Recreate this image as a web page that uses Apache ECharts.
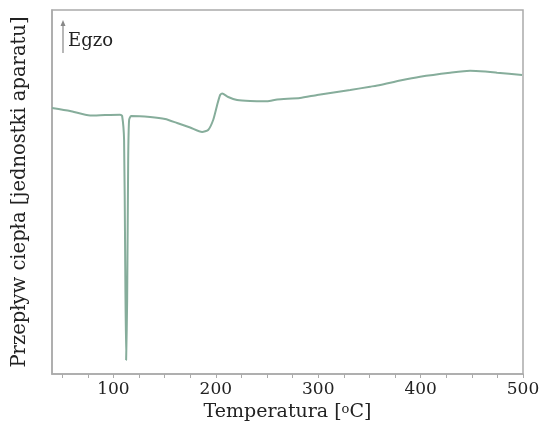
<!DOCTYPE html>
<html lang="pl">
<head>
    <meta charset="UTF-8">
    <title>DSC</title>
    <script src="https://cdn.jsdelivr.net/npm/echarts@6/dist/echarts.min.js"></script>
    <style>
        html, body { margin: 0; padding: 0; background: #fff; }
    </style>
</head>
<body>
<div id="main" style="width:543px;height:438px;"></div>
<script>
    // temperatura [oC] i sygnał (jednostki aparatu)
    var temps = [40, 57.7, 77.2, 91.9, 106.5, 108.5, 110.4, 111.4, 112.4, 113.4, 114.4, 115.3, 117.3,
        135.8, 150.5, 162.2, 174.9, 186.6, 192.5, 197.4, 201.3, 204.2, 206.2, 212.1, 220.8, 233.5,
        250.1, 259.9, 282.3, 298.9, 331.2, 350.7, 360.5, 380, 399.5, 428.8, 448.3, 463, 474.7, 499.1];
    var signal = [266, 263, 258.5, 259, 259.3, 258, 234, 124, 14, 74, 214, 254, 258,
        257, 255, 251, 246.5, 242, 244, 254, 269, 279, 280.5, 277, 274, 273,
        272.8, 274.5, 276, 279, 284, 287.3, 289, 293.5, 297.3, 301.3, 303.3, 302.5, 301.3, 299];
    var tickValues = [50, 75, 100, 125, 150, 175, 200, 225, 250, 275, 300, 325, 350, 375, 400, 425, 450, 475, 500];
    var labelValues = [100, 200, 300, 400, 500];

    var points = [];
    for (var i = 0; i < temps.length; i++) {
        points.push([temps[i], signal[i]]);
    }

    var serif = 'DejaVu Serif';
    var chart = echarts.init(document.getElementById('main'));
    var option = {
        animation: false,
        grid: {
            left: 52, right: 20, top: 10, bottom: 64,
            show: true,
            borderColor: '#aaaaaa',
            borderWidth: 1.5
        },
        xAxis: {
            type: 'value',
            min: 40,
            max: 500,
            name: '{a|Temperatura [}{s|o}{a|C]}',
            nameLocation: 'middle',
            nameGap: 24,
            nameTextStyle: {
                rich: {
                    a: { fontFamily: serif, fontSize: 19, color: '#222' },
                    s: { fontFamily: serif, fontSize: 13, color: '#222', verticalAlign: 'top', padding: [0, 0, 5, 0] }
                }
            },
            axisLine: { show: true, lineStyle: { color: '#aaaaaa', width: 1.5 } },
            axisTick: {
                show: true,
                length: 4,
                customValues: tickValues,
                lineStyle: { color: '#aaaaaa' }
            },
            axisLabel: {
                customValues: labelValues,
                fontFamily: serif,
                fontSize: 17,
                color: '#222',
                margin: 7
            },
            splitLine: { show: false }
        },
        yAxis: {
            type: 'value',
            min: 0,
            max: 364,
            name: 'Przepływ ciepła [jednostki aparatu]',
            nameLocation: 'middle',
            nameGap: 22,
            nameTextStyle: { fontFamily: serif, fontSize: 19.5, color: '#222' },
            axisLine: { show: true, lineStyle: { color: '#aaaaaa', width: 1.5 } },
            axisTick: { show: false },
            axisLabel: { show: false },
            splitLine: { show: false }
        },
        graphic: [
            {
                type: 'line',
                shape: { x1: 63, y1: 53, x2: 63, y2: 24 },
                style: { stroke: '#888', lineWidth: 1.2 }
            },
            {
                type: 'polygon',
                shape: { points: [[60.5, 26], [65.5, 26], [63, 20]] },
                style: { fill: '#888' }
            },
            {
                type: 'text',
                left: 68,
                top: 32,
                style: { text: 'Egzo', font: '18px "DejaVu Serif"', fill: '#222' }
            }
        ],
        series: [{
            type: 'line',
            data: points,
            showSymbol: false,
            smooth: 0.2,
            lineStyle: { color: '#86ad9b', width: 2 }
        }]
    };
    chart.setOption(option);
</script>
</body>
</html>
